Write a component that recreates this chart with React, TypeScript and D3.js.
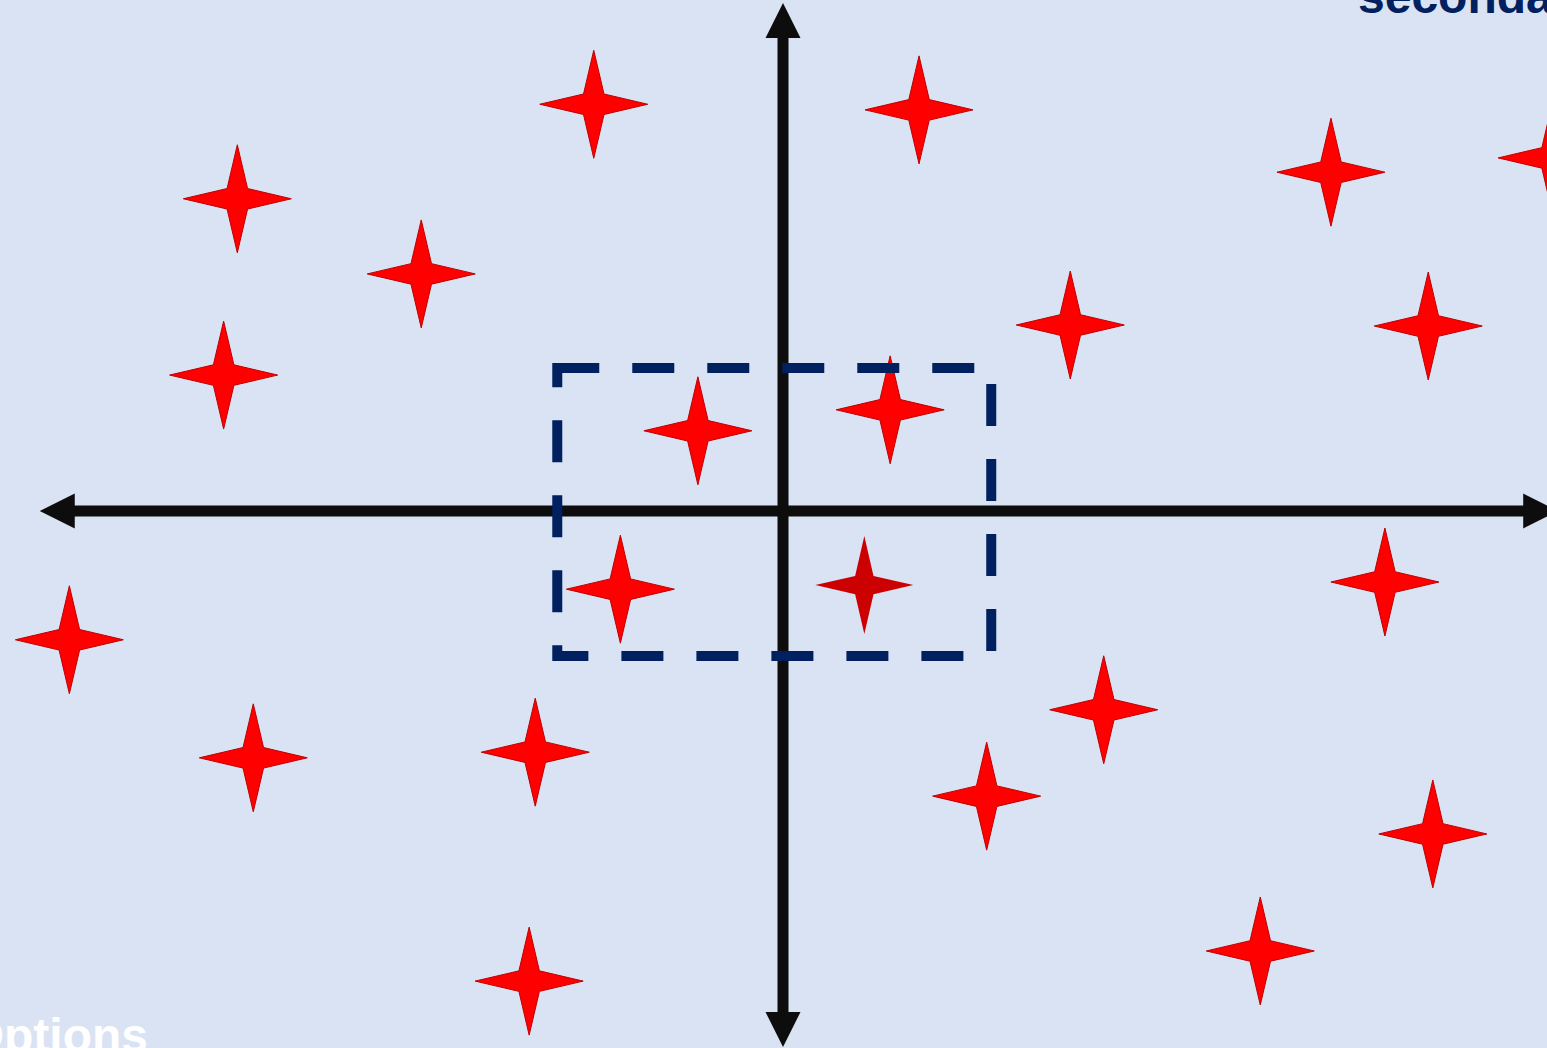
import { useEffect, useRef } from 'react'
import * as d3 from 'd3'

// star positions (axis units, origin at the crossing)
const starX = [-2.49, 1.79, -7.18, 7.21, 10.12, -4.76, 3.78, 8.49, -7.36, -1.12, 1.41, -2.14, 1.07, 7.92, -9.39, 4.22, -6.97, -3.26, 2.68, 8.55, 6.28, -3.34]
const starY = [7.96, 7.85, 6.11, 6.63, 6.91, 4.64, 3.64, 3.62, 2.66, 1.57, 1.98, -1.53, -1.45, -1.39, -2.52, -3.89, -4.83, -4.72, -5.58, -6.32, -8.61, -9.2]
const starKind = ['a', 'a', 'a', 'a', 'a', 'a', 'a', 'a', 'a', 'a', 'a', 'a', 'b', 'a', 'a', 'a', 'a', 'a', 'a', 'a', 'a', 'a']

// dashed selection box
const boxX = [-2.97, 2.74]
const boxY = [-2.84, 2.8]

// arrow tips of the two axes
const axisX = [-9.78, 10.2]
const axisY = [-10.49, 9.94]

const topLabel = 'secondary'
const bottomLabel = 'Options'

const W = 1547
const H = 1048

function starPath(R: number, r: number) {
    const pts: [number, number][] = []
    for (let i = 0; i < 8; i++) {
        const a = (i * Math.PI) / 4 - Math.PI / 2
        const rad = i % 2 === 0 ? R : r
        pts.push([Math.cos(a) * rad, Math.sin(a) * rad])
    }
    return d3.line()(pts) + 'Z'
}

function App() {
    const ref = useRef<SVGSVGElement>(null)

    useEffect(() => {
        const x = d3.scaleLinear().domain([-10, 10]).range([23, 1543])
        const y = d3.scaleLinear().domain([-10, 10]).range([1022, 0])

        const svg = d3.select(ref.current)
        svg.selectAll('*').remove()

        svg.append('rect')
            .attr('width', W)
            .attr('height', H)
            .attr('fill', '#dae3f3')

        const ink = '#0d0d0d'
        const head = 35
        const half = 17.5

        // horizontal axis
        const x0 = x(axisX[0])
        const x1 = x(axisX[1])
        const yc = y(0)
        svg.append('line')
            .attr('x1', x0 + head - 1).attr('x2', x1 - head + 1)
            .attr('y1', yc).attr('y2', yc)
            .attr('stroke', ink).attr('stroke-width', 11)
        svg.append('path')
            .attr('d', `M${x0},${yc}L${x0 + head},${yc - half}L${x0 + head},${yc + half}Z`)
            .attr('fill', ink)
        svg.append('path')
            .attr('d', `M${x1},${yc}L${x1 - head},${yc - half}L${x1 - head},${yc + half}Z`)
            .attr('fill', ink)

        // vertical axis
        const xc = x(0)
        const yt = y(axisY[1])
        const yb = y(axisY[0])
        svg.append('line')
            .attr('x1', xc).attr('x2', xc)
            .attr('y1', yt + head - 1).attr('y2', yb - head + 1)
            .attr('stroke', ink).attr('stroke-width', 11)
        svg.append('path')
            .attr('d', `M${xc},${yt}L${xc - half},${yt + head}L${xc + half},${yt + head}Z`)
            .attr('fill', ink)
        svg.append('path')
            .attr('d', `M${xc},${yb}L${xc - half},${yb - head}L${xc + half},${yb - head}Z`)
            .attr('fill', ink)

        // stars
        const big = starPath(54, 14.5)
        const small = starPath(49, 13)
        svg.append('g')
            .selectAll('path')
            .data(starX.map((v, i) => ({ x: v, y: starY[i], k: starKind[i] })))
            .join('path')
            .attr('d', d => (d.k === 'b' ? small : big))
            .attr('transform', d => `translate(${x(d.x)},${y(d.y)})`)
            .attr('fill', d => (d.k === 'b' ? '#cc0000' : '#ff0000'))
            .attr('stroke', d => (d.k === 'b' ? 'none' : '#c00000'))
            .attr('stroke-width', 1)

        // dashed box
        svg.append('rect')
            .attr('x', x(boxX[0]))
            .attr('y', y(boxY[1]))
            .attr('width', x(boxX[1]) - x(boxX[0]))
            .attr('height', y(boxY[0]) - y(boxY[1]))
            .attr('fill', 'none')
            .attr('stroke', '#002060')
            .attr('stroke-width', 10)
            .attr('stroke-dasharray', '42 33')

        svg.append('text')
            .attr('x', 1358)
            .attr('y', 13)
            .attr('font-family', 'Liberation Sans, Arial, sans-serif')
            .attr('font-weight', 'bold')
            .attr('font-size', 48)
            .attr('fill', '#002060')
            .text(topLabel)

        svg.append('text')
            .attr('x', 148)
            .attr('y', 1052)
            .attr('text-anchor', 'end')
            .attr('font-family', 'Liberation Sans, Arial, sans-serif')
            .attr('font-weight', 'bold')
            .attr('font-size', 48)
            .attr('fill', '#ffffff')
            .text(bottomLabel)
    }, [])

    return (
        <svg
            ref={ref}
            width={W}
            height={H}
            style={{ position: 'absolute', left: 0, top: 0, display: 'block' }}
        />
    )
}

export default App
